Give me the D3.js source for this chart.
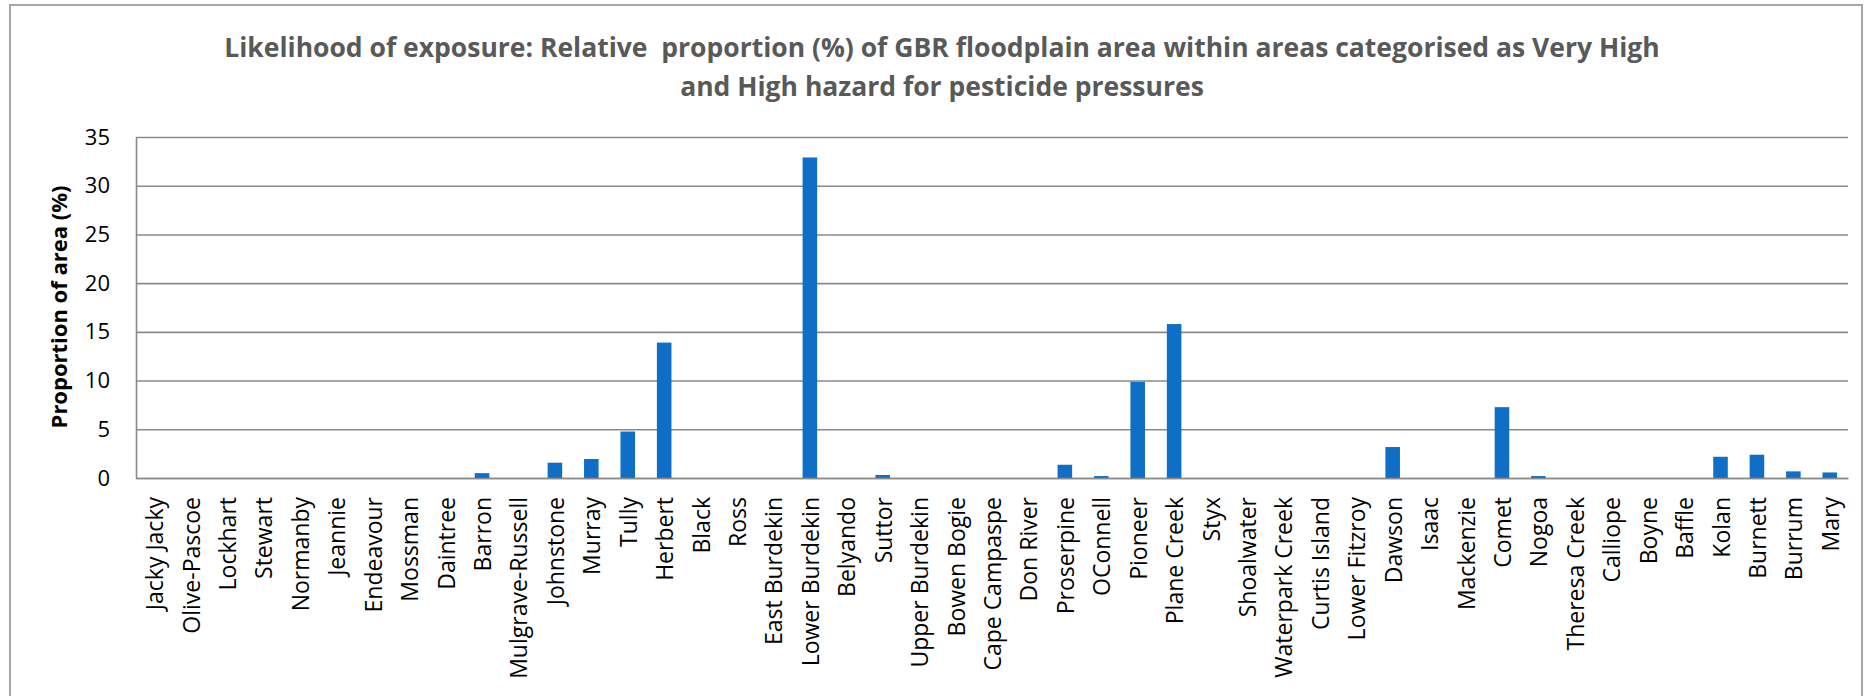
<!DOCTYPE html>
<html>
<head>
<meta charset="utf-8">
<script src="https://cdn.jsdelivr.net/npm/d3@7/dist/d3.min.js"></script>
<style>
  body{margin:0;background:#fff;}
  text{font-family:"Open Sans",sans-serif;}
</style>
</head>
<body>
<script>
// catchments, in the order they run along the coast
var catchments=["Jacky Jacky","Olive-Pascoe","Lockhart","Stewart","Normanby","Jeannie","Endeavour",
    "Mossman","Daintree","Barron","Mulgrave-Russell","Johnstone","Murray","Tully","Herbert","Black",
    "Ross","East Burdekin","Lower Burdekin","Belyando","Suttor","Upper Burdekin","Bowen Bogie",
    "Cape Campaspe","Don River","Proserpine","OConnell","Pioneer","Plane Creek","Styx","Shoalwater",
    "Waterpark Creek","Curtis Island","Lower Fitzroy","Dawson","Isaac","Mackenzie","Comet","Nogoa",
    "Theresa Creek","Calliope","Boyne","Baffle","Kolan","Burnett","Burrum","Mary"];

// proportion of floodplain area (%) in Very High / High hazard
var proportion=[0,0,0,0,0,0,0,
    0,0,0.5,0,1.57,1.95,4.77,13.9,0,
    0,0,32.9,0,0.31,0,0,
    0,0,1.36,0.2,9.87,15.8,0,0,
    0,0,0,3.18,0,0,7.27,0.2,
    0,0,0,0,2.18,2.39,0.68,0.57];

var yTicks=[0,5,10,15,20,25,30,35];

var titleLines=["Likelihood of exposure: Relative  proportion (%) of GBR floodplain area within areas categorised as Very High",
    "and High hazard for pesticide pressures"];
var yTitle="Proportion of area (%)";

var screenW=1869, screenH=696;
var plotL=136, plotR=1848, plotT=137, plotB=478;

var svg=d3.select("body").append("svg")
                .attr("width",screenW)
                .attr("height",screenH);

//chart frame
svg.append("rect")
        .attr("x",10)
        .attr("y",5)
        .attr("width",1852)
        .attr("height",screenH+20)
        .attr("fill","#fff")
        .attr("stroke","#a6a6a6")
        .attr("stroke-width",2);

//title
svg.append("g")
        .attr("class","title")
        .selectAll("text")
        .data(titleLines)
        .join("text")
        .attr("x",942)
        .attr("y",function(d,i){return 57+i*39;})
        .attr("text-anchor","middle")
        .attr("font-size",26.5)
        .attr("font-weight","bold")
        .attr("fill","#595959")
        .attr("xml:space","preserve")
        .text(function(d){return d;});

var x=d3.scaleBand()
            .domain(catchments)
            .range([plotL,plotR])
            .paddingInner(0.6)
            .paddingOuter(0.3);

var y=d3.scaleLinear()
            .domain([0,35])
            .range([plotB,plotT]);

//gridlines
var grid=svg.append("g")
                .attr("class","grid")
                .attr("transform","translate("+plotL+",0)")
                .call(d3.axisLeft(y).tickValues(yTicks).tickSize(-(plotR-plotL)).tickFormat(""));
grid.select(".domain").remove();
grid.selectAll("line")
        .attr("stroke","#8a8a8a")
        .attr("stroke-width",1.6);

//y axis
var yAxis=svg.append("g")
                .attr("class","yAxis")
                .attr("transform","translate("+plotL+",0)")
                .call(d3.axisLeft(y).tickValues(yTicks).tickSize(0).tickPadding(26));
yAxis.select(".domain")
        .attr("stroke","#8a8a8a")
        .attr("stroke-width",1.6);
yAxis.selectAll("text")
        .attr("font-family","Open Sans")
        .attr("font-size",22)
        .attr("fill","#000");

//bars
svg.append("g")
        .attr("class","bars")
        .selectAll("rect")
        .data(proportion)
        .join("rect")
        .attr("x",function(d,i){return x(catchments[i]);})
        .attr("y",function(d){return y(d);})
        .attr("width",x.bandwidth())
        .attr("height",function(d){return y(0)-y(d);})
        .attr("fill","#0f6fc6");

//x axis
var xAxis=svg.append("g")
                .attr("class","xAxis")
                .attr("transform","translate(0,"+plotB+")")
                .call(d3.axisBottom(x).tickSize(0).tickSizeOuter(0));
xAxis.select(".domain")
        .attr("stroke","#8a8a8a")
        .attr("stroke-width",1.6);
xAxis.selectAll("text")
        .attr("font-family","Open Sans")
        .attr("font-size",23)
        .attr("fill","#000")
        .attr("text-anchor","end")
        .attr("dy",null)
        .attr("dominant-baseline","central")
        .attr("transform","translate(0,19) rotate(-90)")
        .attr("y",0)
        .attr("x",0);

//y axis title
svg.append("text")
        .attr("transform","translate(67,307) rotate(-90)")
        .attr("text-anchor","middle")
        .attr("font-size",22)
        .attr("font-weight","bold")
        .attr("fill","#000")
        .text(yTitle);
</script>
</body>
</html>
